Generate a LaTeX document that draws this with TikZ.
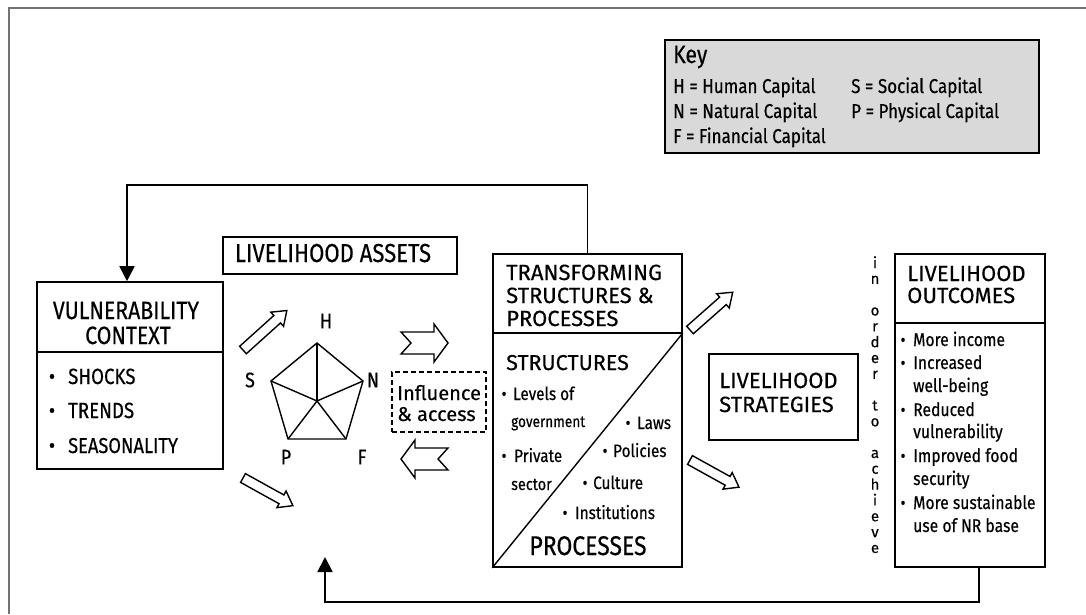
\documentclass[tikz,border=0pt]{standalone}
\usepackage{fontspec}
\setmainfont{Fira Sans}[FakeStretch=0.85,FakeBold=0.4]
\newfontfamily\widefont{Fira Sans}[FakeStretch=1.0,FakeBold=0.4]
\usetikzlibrary{arrows.meta,fit}
\newcommand\fs[1]{\fontsize{#1}{#1}\selectfont}
\newcommand\wfs[1]{\widefont\fontsize{#1}{#1}\selectfont}
% #1 tail, #2 angle, #3 length, #4 shaft half width, #5 head half width, #6 head length, #7 notch
\newcommand\blockarr[7]{%
  \begin{scope}[shift={#1},rotate=#2]
    \draw[line width=1.4pt,fill=white,line join=miter] (#7,0) -- (0,#4) -- ({#3-#6},#4) -- ({#3-#6},#5) -- (#3,0) -- ({#3-#6},-#5) -- ({#3-#6},-#4) -- (0,-#4) -- cycle;
  \end{scope}}
\begin{document}
\begin{tikzpicture}[x=1pt,y=-1pt,
  box/.style={draw,line width=1.6pt,inner sep=0pt},
  t/.style={anchor=base west,inner sep=0pt},
  tc/.style={anchor=base,inner sep=0pt},
  lab/.style={anchor=center,inner sep=0pt,font=\fs{21}},
  fb/.style={line width=1.8pt,-{Triangle[width=15pt,length=15pt]}}]
\useasboundingbox (0,0) rectangle (1086,614);
% frame
\draw[line width=2pt,black!55] (9,614) -- (9,8) -- (1086,8);
% key
\node[box,fill=black!15,fit={(665,40) (1039,153)}] (key) {};
\node[t,font=\fs{25}] (keyT) at (673,63) {Key};
\node[t,font=\fs{20}] (k1) at (673,93) {H = Human Capital};
\node[t,font=\fs{20}] (k2) at (673,118) {N = Natural Capital};
\node[t,font=\fs{20}] (k3) at (673,143) {F = Financial Capital};
\node[t,font=\fs{20}] (k4) at (851,93) {S = Social Capital};
\node[t,font=\fs{20}] (k5) at (851,118) {P = Physical Capital};
% vulnerability
\node[box,fit={(37,282) (223,469)}] (vuln) {};
\draw[line width=1.6pt] (vuln.west |- 0,352) -- (vuln.east |- 0,352);
\node[tc,font=\fs{25}] (v1) at (126,319) {VULNERABILITY};
\node[tc,font=\fs{25}] (v2) at (128,344) {CONTEXT};
\node[tc,font=\fs{22}] (vb1) at (52,384) {\textbullet};
\node[tc,font=\fs{22}] (vb2) at (52,418) {\textbullet};
\node[tc,font=\fs{22}] (vb3) at (52,453) {\textbullet};
\node[t,font=\fs{22}] (vt1) at (68,384) {SHOCKS};
\node[t,font=\fs{22}] (vt2) at (68,418) {TRENDS};
\node[t,font=\fs{21.5}] (vt3) at (68,453) {SEASONALITY};
% assets
\node[box,fit={(223,237) (457,274)}] (assets) {};
\node[tc,font=\fs{26}] (at) at (333,262) {LIVELIHOOD ASSETS};
% pentagon
\coordinate (pH) at (317,343);
\coordinate (pN) at (363,381);
\coordinate (pF) at (346,439);
\coordinate (pP) at (288,439);
\coordinate (pS) at (271,381);
\coordinate (pC) at (317,401);
\draw[line width=1.4pt,line join=miter] (pH) -- (pN) -- (pF) -- (pP) -- (pS) -- cycle;
\foreach \v in {pH,pN,pF,pP,pS} \draw[line width=1.4pt] (pC) -- (\v);
\node[lab] (lH) at (326,321) {H};
\node[lab] (lS) at (250,380) {S};
\node[lab] (lN) at (373,380) {N};
\node[lab] (lP) at (286,457) {P};
\node[lab] (lF) at (362,457) {F};
% influence
\node[box,dashed,line width=1.4pt,dash pattern=on 5pt off 3pt,fit={(392,372) (486,432)}] (infl) {};
\node[t,font=\wfs{20}] (i1) at (397,400) {Influence};
\node[t,font=\wfs{20}] (i2) at (397,421) {\& access};
% transforming
\node[box,fit={(493,254) (682,567)}] (tsp) {};
\draw[line width=1.6pt] (tsp.west |- 0,333) -- (tsp.east |- 0,333);
\draw[line width=1.4pt] (tsp.south west) -- (tsp.east |- 0,333);
\node[t,font=\wfs{22}] (tt1) at (506,280) {TRANSFORMING};
\node[t,font=\wfs{22}] (tt2) at (506,303) {STRUCTURES \&};
\node[t,font=\wfs{22}] (tt3) at (506,326) {PROCESSES};
\node[t,font=\wfs{21.5}] (ts) at (506,370) {STRUCTURES};
\node[tc,font=\fs{18}] (tb1) at (504,400) {\textbullet};
\node[t,font=\fs{18}] (tx1) at (513,400) {Levels of};
\node[t,font=\fs{16}] (tx1b) at (511,427) {government};
\node[tc,font=\fs{18}] (tb2) at (504,462) {\textbullet};
\node[t,font=\fs{18}] (tx2) at (514,462) {Private};
\node[t,font=\fs{17}] (tx2b) at (511,490) {sector};
\node[tc,font=\fs{18}] (tb3) at (628,429) {\textbullet};
\node[t,font=\fs{18}] (tx3) at (637,429) {Laws};
\node[tc,font=\fs{18}] (tb4) at (605,457) {\textbullet};
\node[t,font=\fs{18}] (tx4) at (613,457) {Policies};
\node[tc,font=\fs{18}] (tb5) at (585,489) {\textbullet};
\node[t,font=\fs{18}] (tx5) at (593,489) {Culture};
\node[tc,font=\fs{18}] (tb6) at (565,519) {\textbullet};
\node[t,font=\fs{18}] (tx6) at (575,519) {Institutions};
\node[tc,font=\fs{27}] (tp) at (588,555) {PROCESSES};
% strategies
\node[box,fit={(709,354) (858,440)}] (strat) {};
\node[t,font=\wfs{22}] (s1) at (719,388) {LIVELIHOOD};
\node[t,font=\wfs{22}] (s2) at (719,412) {STRATEGIES};
% in order to achieve
\foreach \ch [count=\i from 0] in {i,n,{},o,r,d,e,r,{},t,o,{},a,c,h,i,e,v,e}
  \node[tc,font=\wfs{15}] (ioa\i) at (875,{268+15.83*\i}) {\ch};
% outcomes
\node[box,fit={(895,254) (1045,567)}] (outc) {};
\draw[line width=1.6pt] (outc.west |- 0,323) -- (outc.east |- 0,323);
\node[t,font=\wfs{22}] (o1) at (907,281) {LIVELIHOOD};
\node[t,font=\wfs{22}] (o2) at (907,303) {OUTCOMES};
\foreach \txt/\y/\b [count=\k] in {More income/346/1,Increased/369/1,well-being/392/0,Reduced/416/1,vulnerability/438/0,Improved food/462/1,security/485/0,More sustainable/509/1,use of NR base/532/0}{
  \node[t,font=\fs{18.5}] (ot\k) at (913,\y) {\txt};
  \ifnum\b=1 \node[tc,font=\fs{18}] (ob\k) at (903,\y) {\textbullet};\fi
}
% block arrows
\blockarr{(243,350)}{42}{59}{5}{9.5}{13}{0}
\blockarr{(243,478)}{-29}{57}{5}{9.5}{13}{0}
\blockarr{(401,343)}{0}{47}{11}{19}{14}{10}
\blockarr{(448,459)}{180}{47}{11}{19}{14}{10}
\blockarr{(690,330)}{41.5}{57}{5}{9.5}{13}{0}
\blockarr{(690,460)}{-29}{56}{5}{9.5}{13}{0}
% feedback connectors
\draw[fb] (tsp.north) -- (tsp.north |- 0,185) -| ([xshift=-3pt]vuln.north);
\coordinate (fbtip) at (325,557);
\draw[fb] ([xshift=9pt]outc.south) |- (fbtip |- 0,602) -- (fbtip);
\end{tikzpicture}
\end{document}
